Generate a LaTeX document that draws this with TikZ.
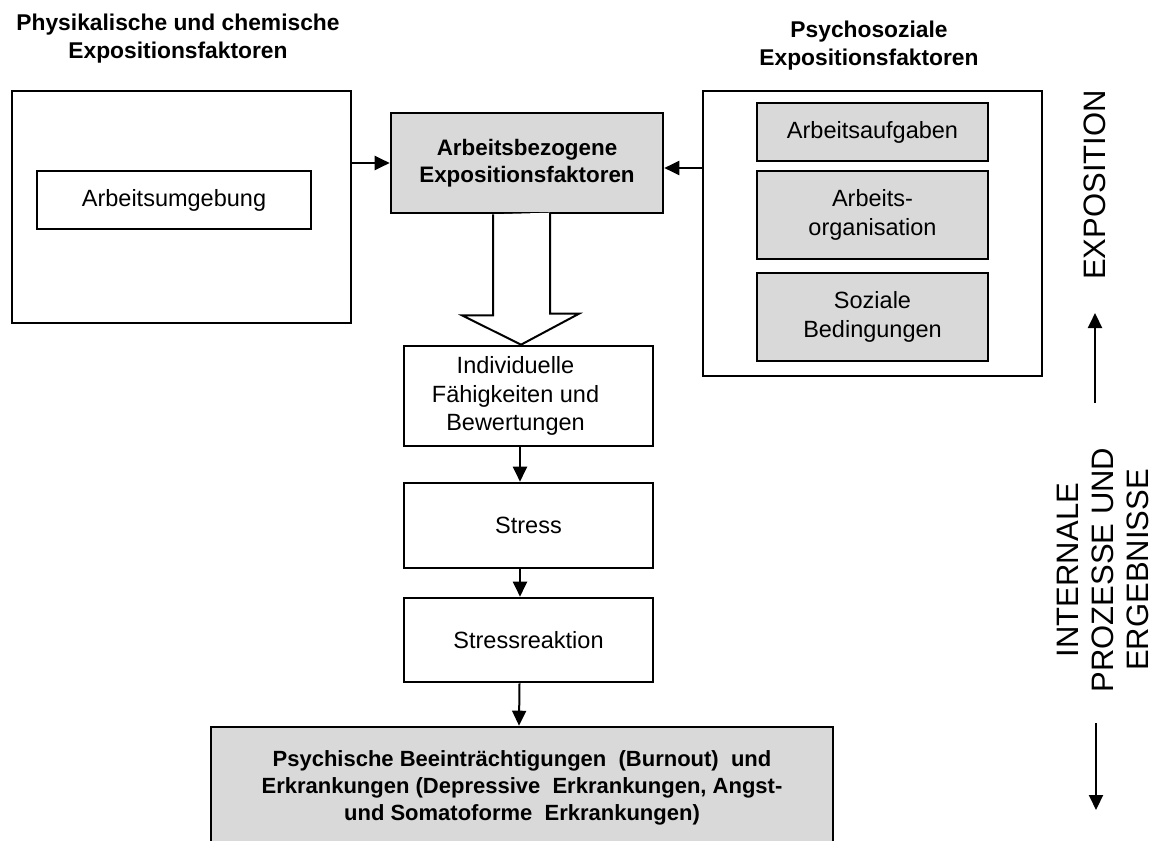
\documentclass[tikz,border=0pt]{standalone}
\usepackage{fontspec}
\setmainfont{Liberation Sans}
\usetikzlibrary{arrows.meta,positioning}
\definecolor{boxgray}{RGB}{217,217,217}

\begin{document}
\begin{tikzpicture}[x=1pt,y=-1pt]
\useasboundingbox (0,0) rectangle (1155,840);

\begin{scope}[every node/.style={align=center,inner sep=0pt,font=\fontsize{22.8}{28}\selectfont\bfseries}]
    \node (phystitle) at (178,39) {Physikalische und chemische\\Expositionsfaktoren};
    \node (psytitle) at (869,46) {Psychosoziale\\Expositionsfaktoren};
\end{scope}

\begin{scope}[every node/.style={draw,line width=2.6pt,inner sep=0pt,align=center,font=\fontsize{23.5}{28.5}\selectfont}]
    \node[minimum width=339pt,minimum height=232pt] (phys) at (181.5,207) {};
    \node[minimum width=274pt,minimum height=58pt] (umgebung) at (174,200) {Arbeitsumgebung};
    \node[fill=boxgray,minimum width=272pt,minimum height=100pt,font=\fontsize{22.4}{27}\selectfont\bfseries] (expo) at (527,163) {Arbeitsbezogene\\Expositionsfaktoren};
    \node[minimum width=339pt,minimum height=285pt] (psycho) at (872.5,233.5) {};
    \node[fill=boxgray,minimum width=231pt,minimum height=58pt] (aufgaben) at (872.5,132) {Arbeitsaufgaben};
    \node[fill=boxgray,minimum width=231pt,minimum height=88pt] (organisation) at (872.5,215) {Arbeits-\\organisation};
    \node[fill=boxgray,minimum width=231pt,minimum height=88pt] (sozial) at (872.5,317) {Soziale\\Bedingungen};
    \node[fill=white,minimum width=249pt,minimum height=100pt,
          label={[xshift=-13pt,align=center,draw=none,font=\fontsize{23.5}{28.5}\selectfont]center:Individuelle\\Fähigkeiten und\\Bewertungen}] (indiv) at (528.5,396) {};
    \node[minimum width=249pt,minimum height=85pt] (stress) at (528.5,525.5) {Stress};
    \node[minimum width=249pt,minimum height=84pt] (reakt) at (528.5,640) {Stressreaktion};
    \node[fill=boxgray,minimum width=622pt,minimum height=122pt,font=\fontsize{22}{27}\selectfont\bfseries] (psych) at (522,788) {Psychische Beeinträchtigungen \ (Burnout) \ und\\Erkrankungen (Depressive \ Erkrankungen, Angst-\\und Somatoforme \ Erkrankungen)};
\end{scope}

\begin{scope}[every node/.style={align=center,inner sep=0pt,rotate=90,font=\fontsize{31}{35}\selectfont}]
    \node (expolabel) at (1095,185) {EXPOSITION};
    \node (intlabel) at (1103,570) {INTERNALE\\PROZESSE UND\\ERGEBNISSE};
\end{scope}

\coordinate (psyout) at (703,168);
\coordinate (upstart) at (1095,403);
\coordinate (upend) at (1095,313);
\coordinate (downstart) at (1096,723);
\coordinate (downend) at (1096,810);

\draw[line width=2pt,fill=white] ([xshift=-34pt]expo.south) -- ++(0,101) -- ++(-31,0) -- ([xshift=-7.5pt]indiv.north) -- ++(58,-31) -- ++(-29,0) -- ++(0,-101);

\begin{scope}[>={Triangle[length=15pt,width=14pt]},
              every edge/.style={draw,line width=2pt}]
    \path [->] (expo.west -| phys.east) edge (expo.west);
    \path [->] (psyout) edge (psyout -| expo.east);
    \path [->] ([xshift=-8.5pt]indiv.south) edge ([xshift=-8.5pt]stress.north);
    \path [->] ([xshift=-8.5pt]stress.south) edge ([xshift=-8.5pt]reakt.north);
    \path [->] ([xshift=-9pt]reakt.south) edge ([xshift=-3pt]psych.north);
    \path [->] (upstart) edge (upend);
    \path [->] (downstart) edge (downend);
\end{scope}
\end{tikzpicture}
\end{document}
